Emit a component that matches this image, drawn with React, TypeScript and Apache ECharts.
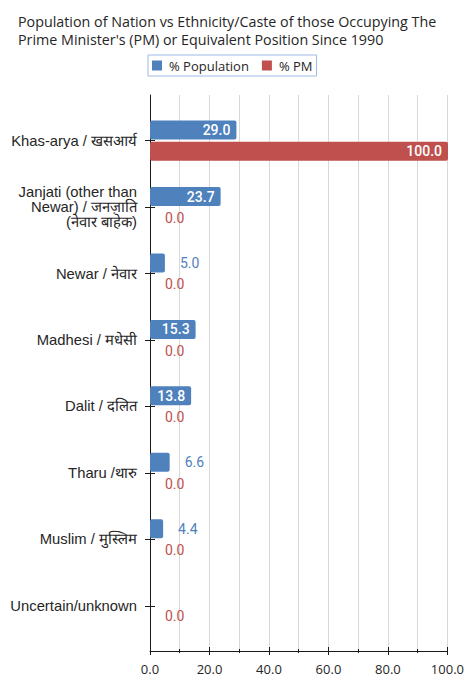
import React, { useEffect, useRef } from "react";
import * as echarts from "echarts";

const categories = [
  "Khas-arya / खसआर्य",
  "Janjati (other than\nNewar) / जनज़ाति\n(नेवार बाहेक)",
  "Newar / नेवार",
  "Madhesi / मधेसी",
  "Dalit / दलित",
  "Tharu /थारु",
  "Muslim / मुस्लिम",
  "Uncertain/unknown",
];
const populationPct: (number | null)[] = [29.0, 23.7, 5.0, 15.3, 13.8, 6.6, 4.4, null];
const pmPct: number[] = [100.0, 0.0, 0.0, 0.0, 0.0, 0.0, 0.0, 0.0];
const seriesNames = ["% Population", "% PM"];
const titleText =
  "Population of Nation vs Ethnicity/Caste of those Occupying The\nPrime Minister's (PM) or Equivalent Position Since 1990";

const BLUE = "#4f81bd";
const RED = "#c0504d";
const AXIS = "#1a1a1a";

function labelFor(color: string, v: number | null, wideThreshold: number) {
  const inside = v != null && v >= wideThreshold;
  return inside
    ? {
        show: true,
        position: "insideRight",
        distance: 6,
        color: "#ffffff",
        fontFamily: "Roboto",
        fontSize: 14,
        fontWeight: 500,
        formatter: (p: any) => Number(p.value).toFixed(1),
      }
    : {
        show: true,
        position: "right",
        distance: 15,
        color,
        fontFamily: "Roboto",
        fontSize: 14,
        formatter: (p: any) => Number(p.value).toFixed(1),
      };
}

export default function App() {
  const ref = useRef<HTMLDivElement>(null);
  useEffect(() => {
    if (!ref.current) return;
    const chart = echarts.init(ref.current, undefined, { renderer: "svg" });
    const popData = populationPct.map((v) =>
      v == null ? { value: null } : { value: v, label: labelFor(BLUE, v, 10) }
    );
    const pmData = pmPct.map((v) => ({ value: v, label: labelFor(RED, v, 10) }));
    chart.setOption({
      animation: false,
      backgroundColor: "#ffffff",
      title: {
        text: titleText,
        left: 13,
        top: 7,
        textStyle: {
          fontFamily: "Open Sans",
          fontSize: 14.3,
          fontWeight: "normal",
          color: "#262626",
          lineHeight: 18,
        },
      },
      legend: {
        data: seriesNames,
        left: 148,
        top: 55,
        padding: [4, 4, 4, 4],
        itemWidth: 10,
        itemHeight: 10,
        itemGap: 13,
        icon: "rect",
        borderColor: "#9dbbe3",
        borderWidth: 1,
        textStyle: {
          fontFamily: "Open Sans",
          fontSize: 13,
          color: "#262626",
          padding: [0, 0, 0, 2],
        },
      },
      grid: [
        { left: 150, right: 19, top: 107.5, bottom: 41, containLabel: false },
        { left: 150, right: 19, top: 95, bottom: 29, containLabel: false },
      ],
      xAxis: [
        { type: "value", gridIndex: 0, min: 0, max: 100, show: false },
        {
          type: "value",
          gridIndex: 1,
          min: 0,
          max: 100,
          interval: 20,
          position: "bottom",
          axisLine: { show: true, lineStyle: { color: AXIS, width: 1 } },
          axisTick: { show: true, length: 4, lineStyle: { color: AXIS } },
          minorTick: { show: true, splitNumber: 2, length: 2, lineStyle: { color: AXIS } },
          splitLine: { show: true, lineStyle: { color: "#d9d9d9" } },
          minorSplitLine: { show: true, lineStyle: { color: "#d9d9d9" } },
          axisLabel: {
            margin: 11,
            fontFamily: "Open Sans",
            fontSize: 13,
            color: "#262626",
            formatter: (v: number) => v.toFixed(1),
          },
        },
        {
          type: "value",
          gridIndex: 1,
          min: 0,
          max: 100,
          interval: 20,
          position: "bottom",
          axisLine: { show: false },
          axisTick: { show: true, inside: true, length: 4, lineStyle: { color: AXIS } },
          minorTick: { show: true, splitNumber: 2, length: 2, lineStyle: { color: AXIS } },
          splitLine: { show: false },
          axisLabel: { show: false },
        },
      ],
      yAxis: [
        {
          type: "category",
          gridIndex: 0,
          inverse: true,
          data: categories,
          axisLine: { show: false },
          axisTick: { show: true, alignWithLabel: true, length: 5, lineStyle: { color: AXIS } },
          axisLabel: {
            margin: 13,
            fontFamily: "Liberation Sans",
            fontSize: 14.8,
            lineHeight: 15,
            color: "#262626",
            align: "right",
          },
        },
        {
          type: "category",
          gridIndex: 0,
          inverse: true,
          data: categories,
          position: "left",
          axisLine: { show: false },
          axisTick: { show: true, inside: true, alignWithLabel: true, length: 5, lineStyle: { color: AXIS } },
          axisLabel: { show: false },
        },
        {
          type: "value",
          gridIndex: 1,
          min: 0,
          max: 1,
          axisLine: { show: true, lineStyle: { color: AXIS, width: 1 } },
          axisTick: { show: false },
          axisLabel: { show: false },
          splitLine: { show: false },
        },
      ],
      series: [
        {
          name: seriesNames[0],
          type: "bar",
          xAxisIndex: 0,
          yAxisIndex: 0,
          barWidth: 19,
          barGap: "12%",
          itemStyle: { color: BLUE, borderRadius: 2 },
          data: popData,
        },
        {
          name: seriesNames[1],
          type: "bar",
          xAxisIndex: 0,
          yAxisIndex: 0,
          barWidth: 19,
          barGap: "12%",
          itemStyle: { color: RED, borderRadius: 2 },
          data: pmData,
        },
      ],
    });
    return () => chart.dispose();
  }, []);
  return (
    <div
      ref={ref}
      style={{ position: "fixed", left: 0, top: 0, width: 467, height: 680 }}
    />
  );
}
